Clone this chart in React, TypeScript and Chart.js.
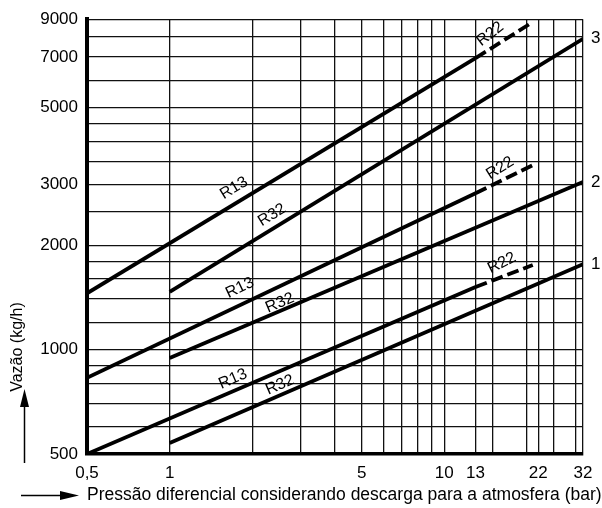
import React, { useEffect, useRef } from "react";
import { Chart, registerables } from "chart.js";

Chart.register(...registerables);

// ---- axes ----
const xGridValues = [0.5, 1, 2, 3, 4, 5, 6, 7, 8, 9, 10, 13, 15, 20, 22, 25, 30, 32];
const xLabelValues = [0.5, 1, 5, 10, 13, 22, 32];
const xLabelTexts = ["0,5", "1", "5", "10", "13", "22", "32"];
const yGridValues = [500, 600, 700, 800, 900, 1000, 1200, 1400, 1600, 1800, 2000, 2500, 3000, 3500, 4000, 4500, 5000, 6000, 7000, 8000, 9000];
const yLabelValues = [500, 1000, 2000, 3000, 5000, 7000, 9000];

// ---- series (pressure in bar, flow in kg/h) ----
const r13Set3X = [0.5, 13];
const r13Set3Y = [1455, 6950];
const r22Set3X = [13, 21];
const r22Set3Y = [6950, 8830];
const r32Set3X = [1, 32];
const r32Set3Y = [1470, 7900];

const r13Set2X = [0.5, 13];
const r13Set2Y = [830, 2830];
const r22Set2X = [13, 21];
const r22Set2Y = [2830, 3410];
const r32Set2X = [1, 32];
const r32Set2Y = [946, 3050];

const r13Set1X = [0.5, 13];
const r13Set1Y = [500, 1517];
const r22Set1X = [13, 21];
const r22Set1Y = [1517, 1756];
const r32Set1X = [1, 32];
const r32Set1Y = [538, 1765];

// ---- in-plot labels ----
const curveLabelTexts = ["R13", "R32", "R22", "R13", "R32", "R22", "R13", "R32", "R22"];
const curveLabelX = [1.715, 2.36, 14.7, 1.8, 2.52, 15.96, 1.7, 2.52, 16.2];
const curveLabelY = [2928, 2447, 8150, 1507, 1364, 3345, 823, 791, 1779];
const curveLabelLine = [0, 2, 1, 3, 5, 4, 6, 8, 7];

const curveNumberTexts = ["3", "2", "1"];
const curveNumberLine = [2, 5, 8];

const xTitle = "Pressão diferencial considerando descarga para a atmosfera (bar)";
const yTitle = "Vazão (kg/h)";

const FONT = '"Liberation Sans", Arial, Helvetica, sans-serif';

function pts(xs: number[], ys: number[]) {
  return xs.map((v, i) => ({ x: v, y: ys[i] }));
}

function ds(xs: number[], ys: number[], dashed: boolean) {
  return {
    data: pts(xs, ys),
    borderColor: "#000",
    borderWidth: 3.8,
    borderDash: dashed ? [12, 5] : [],
    pointRadius: 0,
    fill: false,
    tension: 0,
    borderCapStyle: "butt" as const,
  };
}

const annotPlugin = {
  id: "annot",
  afterDatasetsDraw(chart: any) {
    const { ctx, scales, chartArea } = chart;
    const xs = scales.x;
    const ys = scales.y;
    ctx.save();
    ctx.fillStyle = "#000";
    ctx.strokeStyle = "#000";

    // curve labels along lines
    ctx.font = `16px ${FONT}`;
    ctx.textAlign = "center";
    ctx.textBaseline = "middle";
    curveLabelTexts.forEach((t, i) => {
      const d = chart.data.datasets[curveLabelLine[i]].data;
      const p0 = d[0];
      const p1 = d[d.length - 1];
      let ang = Math.atan2(
        ys.getPixelForValue(p1.y) - ys.getPixelForValue(p0.y),
        xs.getPixelForValue(p1.x) - xs.getPixelForValue(p0.x)
      );
      if (t === "R22") ang -= 0.1;
      const px = xs.getPixelForValue(curveLabelX[i]);
      const py = ys.getPixelForValue(curveLabelY[i]);
      ctx.save();
      ctx.translate(px, py);
      ctx.rotate(ang);
      ctx.fillText(t, 0, 0);
      ctx.restore();
    });

    // x tick labels
    ctx.font = `17px ${FONT}`;
    ctx.textAlign = "center";
    ctx.textBaseline = "middle";
    xLabelValues.forEach((v, i) => {
      ctx.fillText(xLabelTexts[i], xs.getPixelForValue(v), chartArea.bottom + 19);
    });

    // curve numbers at right
    ctx.textAlign = "left";
    curveNumberTexts.forEach((t, i) => {
      const d = chart.data.datasets[curveNumberLine[i]].data;
      const p = d[d.length - 1];
      ctx.fillText(t, chartArea.right + 8, ys.getPixelForValue(p.y));
    });

    // y title + arrow
    ctx.save();
    ctx.font = `16px ${FONT}`;
    ctx.translate(18, 347);
    ctx.rotate(-Math.PI / 2);
    ctx.textAlign = "center";
    ctx.textBaseline = "middle";
    ctx.fillText(yTitle, 0, 0);
    ctx.restore();

    ctx.lineWidth = 1.5;
    ctx.beginPath();
    ctx.moveTo(24.5, 463);
    ctx.lineTo(24.5, 404);
    ctx.stroke();
    ctx.beginPath();
    ctx.moveTo(24.5, 389);
    ctx.lineTo(29, 407);
    ctx.lineTo(20, 407);
    ctx.closePath();
    ctx.fill();

    // x title + arrow
    ctx.font = `17.5px ${FONT}`;
    ctx.textAlign = "left";
    ctx.textBaseline = "middle";
    ctx.fillText(xTitle, 87, 495);
    ctx.beginPath();
    ctx.moveTo(21, 495.5);
    ctx.lineTo(62, 495.5);
    ctx.stroke();
    ctx.beginPath();
    ctx.moveTo(79, 495.5);
    ctx.lineTo(60, 491);
    ctx.lineTo(60, 500);
    ctx.closePath();
    ctx.fill();

    ctx.restore();
  },
};

export default function App() {
  const ref = useRef<HTMLCanvasElement | null>(null);

  useEffect(() => {
    if (!ref.current) return;
    const chart = new Chart(ref.current, {
      type: "line",
      data: {
        datasets: [
          ds(r13Set3X, r13Set3Y, false),
          ds(r22Set3X, r22Set3Y, true),
          ds(r32Set3X, r32Set3Y, false),
          ds(r13Set2X, r13Set2Y, false),
          ds(r22Set2X, r22Set2Y, true),
          ds(r32Set2X, r32Set2Y, false),
          ds(r13Set1X, r13Set1Y, false),
          ds(r22Set1X, r22Set1Y, true),
          ds(r32Set1X, r32Set1Y, false),
        ] as any,
      },
      options: {
        animation: false,
        responsive: true,
        maintainAspectRatio: false,
        devicePixelRatio: 1,
        layout: { padding: { top: 19, right: 19, left: 0, bottom: 0 } },
        plugins: {
          legend: { display: false },
          tooltip: { enabled: false },
          title: { display: false },
        },
        scales: {
          x: {
            type: "logarithmic",
            min: 0.5,
            max: 32,
            afterBuildTicks: (scale: any) => {
              scale.ticks = xGridValues.map((v) => ({ value: v }));
            },
            afterFit: (scale: any) => {
              scale.height = 54;
            },
            ticks: { display: false, autoSkip: false },
            grid: {
              color: "#111",
              lineWidth: 1.3,
              drawTicks: false,
            },
            border: { display: true, color: "#000", width: 3.5 },
          },
          y: {
            type: "logarithmic",
            min: 500,
            max: 9000,
            afterBuildTicks: (scale: any) => {
              scale.ticks = yGridValues.map((v) => ({ value: v }));
            },
            afterFit: (scale: any) => {
              scale.width = 87;
            },
            ticks: {
              autoSkip: false,
              padding: 9,
              color: "#000",
              font: { family: FONT, size: 17 },
              callback: (value: any) =>
                yLabelValues.indexOf(Number(value)) >= 0 ? String(value) : "",
            },
            grid: {
              color: "#111",
              lineWidth: 1.3,
              drawTicks: false,
            },
            border: { display: true, color: "#000", width: 4 },
          },
        },
      } as any,
      plugins: [annotPlugin],
    });
    return () => chart.destroy();
  }, []);

  return (
    <div style={{ position: "absolute", left: 0, top: 0, width: 602, height: 508, background: "#fff" }}>
      <canvas ref={ref} />
    </div>
  );
}
